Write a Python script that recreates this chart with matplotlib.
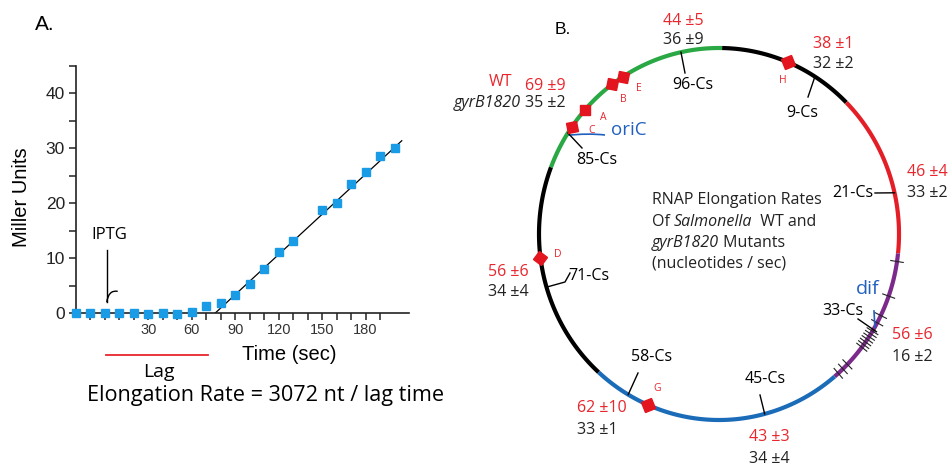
import numpy as np
import matplotlib
matplotlib.use("Agg")
import matplotlib.pyplot as plt
from matplotlib.path import Path
from matplotlib.patches import PathPatch
from matplotlib.markers import MarkerStyle
from matplotlib.transforms import Affine2D

# ---- panel A: induction time course ----
time_sec = [-20, -10, 0, 10, 20, 30, 40, 50, 60, 70, 80, 90, 100, 110, 120, 130,
            150, 160, 170, 180, 190, 200]
miller = [0, 0, 0, 0, 0, -0.2, 0, -0.1, 0.2, 1.3, 1.8, 3.4, 5.3, 8.0, 11.2, 13.1,
          18.8, 20.0, 23.5, 25.8, 28.6, 30.1]
fit_time = [76, 205]
fit_miller = [0, 31.4]
lag_window = [1, 71]
xtick_vals = [30, 60, 90, 120, 150, 180]
ytick_vals = [0, 10, 20, 30, 40]

# ---- panel B: chromosome map (angles clockwise from top, degrees) ----
seg_start = [291, 1, 45, 96, 140, 222]
seg_end = [361, 45, 96, 140, 222, 291]
seg_color = ["#2aa844", "black", "#e41e26", "#7b2a8c", "#1b6cb8", "black"]

site_names = ["H", "E", "B", "A", "C", "D", "G"]
site_angle = [22.7, 327.6, 323.7, 311.8, 305.1, 262.6, 203.3]
site_label_angle = [23.3, 330.5, 323.7, 314.3, 308.3, 263, 202.6]

ter_ticks = [98.5, 109.5, 116, 118.5, 121.5, 122.5, 123.5, 124.5, 125.5, 126.5, 127.5,
             134.5, 136.5, 138.5]

cs_names = ["96-Cs", "9-Cs", "21-Cs", "33-Cs", "45-Cs", "58-Cs", "85-Cs"]
cs_angle = [347.8, 32.2, 77.2, 121, 165.3, 210.3, 302.9]

wt_mean = [44, 38, 46, 56, 43, 62, 56, 69]
wt_sd = [5, 1, 4, 6, 3, 10, 6, 9]
gyr_mean = [36, 32, 33, 16, 34, 33, 34, 35]
gyr_sd = [9, 2, 2, 2, 4, 1, 4, 2]

RED = "#e8262d"
BLUE = "#2060bf"
SANS = "Liberation Sans"
MYR = "Open Sans"
FS = 11.5

W, H = 949, 467
fig = plt.figure(figsize=(W / 100, H / 100), dpi=100)


def fpos(x, y):
    return x / W, 1 - y / H


# ---------------- panel A ----------------
axA = fig.add_axes([76 / W, 1 - 313.3 / H, (409 - 76) / W, (313.3 - 66) / H])
axA.set_xlim(-20, 210)
axA.set_ylim(0, 45)
for s in ["top", "right"]:
    axA.spines[s].set_visible(False)
for s in ["left", "bottom"]:
    axA.spines[s].set_linewidth(1.2)
    axA.spines[s].set_color("#222222")

axA.plot(fit_time, fit_miller, color="black", lw=0.9, zorder=2)
axA.plot(time_sec, miller, ls="none", marker="s", ms=5.2, color="#1a9be6",
         clip_on=False, zorder=3)

axA.set_xticks(xtick_vals)
axA.set_xticks(np.arange(-10, 200, 10), minor=True)
axA.set_yticks(ytick_vals)
axA.set_yticks(np.arange(5, 50, 10), minor=True)
axA.tick_params(which="both", direction="out", length=5, width=1.1, color="#222222")
axA.tick_params(axis="x", labelsize=10.5, pad=2, labelcolor="#333333")
axA.tick_params(axis="y", labelsize=12.5, pad=3, labelcolor="#222222")
for lab in axA.get_xticklabels() + axA.get_yticklabels():
    lab.set_family(SANS)

# IPTG arrow
axA.plot([1.2, 1.2], [11.5, 2.0], color="black", lw=1.0, clip_on=False)
hook = Path([(1.2, 2.0), (2.4, 4.3), (8.8, 4.0)], [Path.MOVETO, Path.CURVE3, Path.CURVE3])
axA.add_patch(PathPatch(hook, fill=False, lw=1.0, color="black", clip_on=False))
axA.text(3.3, 14.2, "IPTG", fontsize=12, family=MYR, ha="center", va="center")

# lag bar
axA.plot(lag_window, [-7.6, -7.6], color=RED, lw=1.3, clip_on=False)

fig.text(*fpos(45, 25), "A.", fontsize=15, family=SANS, ha="center", va="center")
fig.text(*fpos(22, 197), "Miller Units", fontsize=14.5, family=SANS, rotation=90,
         ha="center", va="center")
fig.text(*fpos(289, 354), "Time (sec)", fontsize=14.5, family=SANS, ha="center", va="center")
fig.text(*fpos(159, 372), "Lag", fontsize=14, family=MYR, ha="center", va="center")
fig.text(*fpos(266, 395), "Elongation Rate = 3072 nt / lag time", fontsize=15.6,
         family=MYR, ha="center", va="center")

# ---------------- panel B ----------------
axB = fig.add_axes([460 / W, 0, (W - 460) / W, 1])
axB.set_xlim(460, W)
axB.set_ylim(H, 0)
axB.axis("off")

CX, CY, RX, RY = 719, 234, 180, 186


def pol(a, r=1.0):
    a = np.radians(a)
    return CX + r * RX * np.sin(a), CY - r * RY * np.cos(a)


for a0, a1, c in zip(seg_start, seg_end, seg_color):
    t = np.linspace(a0, a1, 120)
    x, y = pol(t)
    axB.plot(x, y, color=c, lw=3.0, solid_capstyle="butt", zorder=2)

for a in ter_ticks:
    x, y = pol(np.array([a, a]), np.array([0.965, 1.035]))
    axB.plot(x, y, color="#222222", lw=0.8, zorder=3)

for name, a, la in zip(site_names, site_angle, site_label_angle):
    x, y = pol(a)
    m = MarkerStyle("D", transform=Affine2D().rotate_deg(-a))
    axB.plot([x], [y], ls="none", marker=m, ms=7.5, color="#e3151f", zorder=4)
    lx, ly = pol(la, 0.9)
    axB.text(lx, ly, name, color=RED, fontsize=7.5, family=MYR, ha="center", va="center")

# Cs site leader lines and labels
cs_tick_end = [(685, 73), (808, 97), (875, 193), (858, 319), (760, 395), (638, 373), (582, 148)]
cs_label_pos = [(693, 85), (802, 113), (873, 193), (843, 311), (765, 379), (652, 357), (597, 160)]
cs_ha = ["center", "center", "right", "center", "center", "center", "center"]
for name, a, (ex, ey), (lx, ly), ha in zip(cs_names, cs_angle, cs_tick_end, cs_label_pos, cs_ha):
    r0 = 1.02 if name == "33-Cs" else 1.0
    sx, sy = pol(a, r0)
    axB.plot([sx, ex], [sy, ey], color="black", lw=1.0, zorder=3)
    axB.text(lx, ly, name, fontsize=FS, family=MYR, ha=ha, va="center")

# 71-Cs bracket
sx, sy = pol(253.4)
axB.plot([sx, 565, 570], [sy, 282, 273], color="black", lw=1.0)
axB.text(568, 276, "71-Cs", fontsize=FS, family=MYR, ha="left", va="center")

# oriC and dif
sx, sy = pol(302)
ori = Path([(sx, sy), (588, 133), (605, 135)], [Path.MOVETO, Path.CURVE3, Path.CURVE3])
axB.add_patch(PathPatch(ori, fill=False, color=BLUE, lw=1.2))
axB.text(629, 130, "oriC", color=BLUE, fontsize=13.5, family=MYR, ha="center", va="center")
sx, sy = pol(120)
axB.plot([sx, 874], [sy, 311], color=BLUE, lw=1.2, zorder=3)
axB.text(868, 289, "dif", color=BLUE, fontsize=14, family=MYR, ha="center", va="center")

# elongation rates: WT (red) over gyrB1820 (black)
rate_pos = [(663, 21, 40), (813, 44, 64), (907, 172, 193), (892, 335, 357),
            (749, 437, 459), (577, 408, 430), (488, 272, 292), (525, 86, 103)]
for wm, ws, gm, gs, (x, yr, yb) in zip(wt_mean, wt_sd, gyr_mean, gyr_sd, rate_pos):
    axB.text(x, yr, f"{wm} \u00b1{ws}", color=RED, fontsize=FS, family=MYR, va="center")
    axB.text(x, yb, f"{gm} \u00b1{gs}", color="#222222", fontsize=FS, family=MYR, va="center")
axB.text(489, 82, "WT", color=RED, fontsize=FS, family=MYR, va="center")
axB.text(521, 103, "gyrB1820", color="#222222", fontsize=FS, family=MYR, style="italic",
         ha="right", va="center")

fig.text(*fpos(563, 30), "B.", fontsize=12.5, family=SANS, ha="center", va="center")

# centre caption, mixed upright / italic pieces
caption = [[("RNAP Elongation Rates", "normal")],
           [("Of ", "normal"), ("Salmonella", "italic"), ("  WT and", "normal")],
           [("gyrB1820", "italic"), (" Mutants", "normal")],
           [("(nucleotides / sec)", "normal")]]
for pieces, y in zip(caption, [200, 222, 243, 263]):
    prev = None
    for txt, st in pieces:
        kw = dict(fontsize=FS, family=MYR, style=st, va="center", color="#222222")
        if prev is None:
            prev = axB.text(652, y, txt, ha="left", **kw)
        else:
            prev = axB.annotate(txt, xy=(1, 0.5), xycoords=prev, ha="left", **kw)

fig.savefig("out.png", dpi=100)
